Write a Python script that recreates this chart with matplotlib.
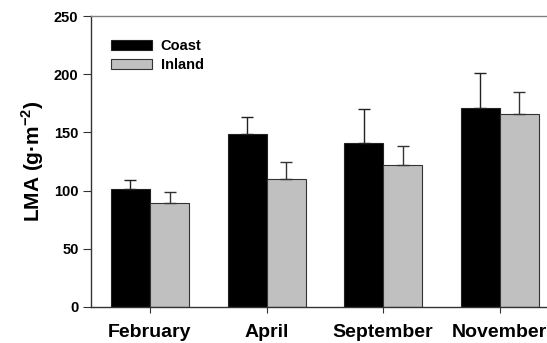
import matplotlib
matplotlib.use("Agg")
import matplotlib.pyplot as plt
import numpy as np

months = ["February", "April", "September", "November"]
coast = [101, 149, 141, 171]
coast_err = [8, 14, 29, 30]
inland = [89, 110, 122, 166]
inland_err = [10, 15, 16, 19]
yticks = [0, 50, 100, 150, 200, 250]

plt.rcParams['font.family'] = ['Liberation Sans', 'DejaVu Sans']
fig = plt.figure(figsize=(5.47, 3.43), dpi=100)
W, H = 547, 343
ax = fig.add_axes([91 / W, (H - 307) / H, (558 - 91) / W, (307 - 16) / H])

x = np.arange(len(months))
w = 0.335
ax.bar(x - w / 2, coast, w, color='black', edgecolor='#222222', linewidth=0.8, label='Coast',
       yerr=[np.zeros(4), coast_err], error_kw=dict(ecolor='#222222', elinewidth=1, capsize=4, capthick=1))
ax.bar(x + w / 2, inland, w, color='#c0c0c0', edgecolor='#333333', linewidth=0.8, label='Inland',
       yerr=[np.zeros(4), inland_err], error_kw=dict(ecolor='#333333', elinewidth=1, capsize=4, capthick=1))

ax.set_xlim(-0.506, 3.5)
ax.set_ylim(0, 250)
ax.set_yticks(yticks)
ax.set_yticklabels([str(t) for t in yticks], fontsize=10.5, fontweight='bold')
ax.set_xticks(x)
ax.set_xticklabels(months, fontsize=14, fontweight='bold')
ax.tick_params(axis='x', length=4, width=0.8, color='#333333', pad=8)
ax.tick_params(axis='y', length=6, width=0.8, color='#333333', pad=3)
ax.set_ylabel('LMA (g·m$^{\\mathregular{-2}}$)', fontsize=15, fontweight='bold', labelpad=6)

for s in ['left', 'bottom']:
    ax.spines[s].set_color('#333333')
    ax.spines[s].set_linewidth(1)
ax.spines['top'].set_color('#808080')
ax.spines['top'].set_linewidth(1)
ax.spines['right'].set_visible(False)

leg = ax.legend(loc='upper left', bbox_to_anchor=(0.015, 0.965), frameon=False,
                handlelength=2.8, handleheight=0.7, handletextpad=0.6, labelspacing=0.35,
                prop=dict(size=10.5, weight='bold'))

fig.savefig('out.png', dpi=100)
